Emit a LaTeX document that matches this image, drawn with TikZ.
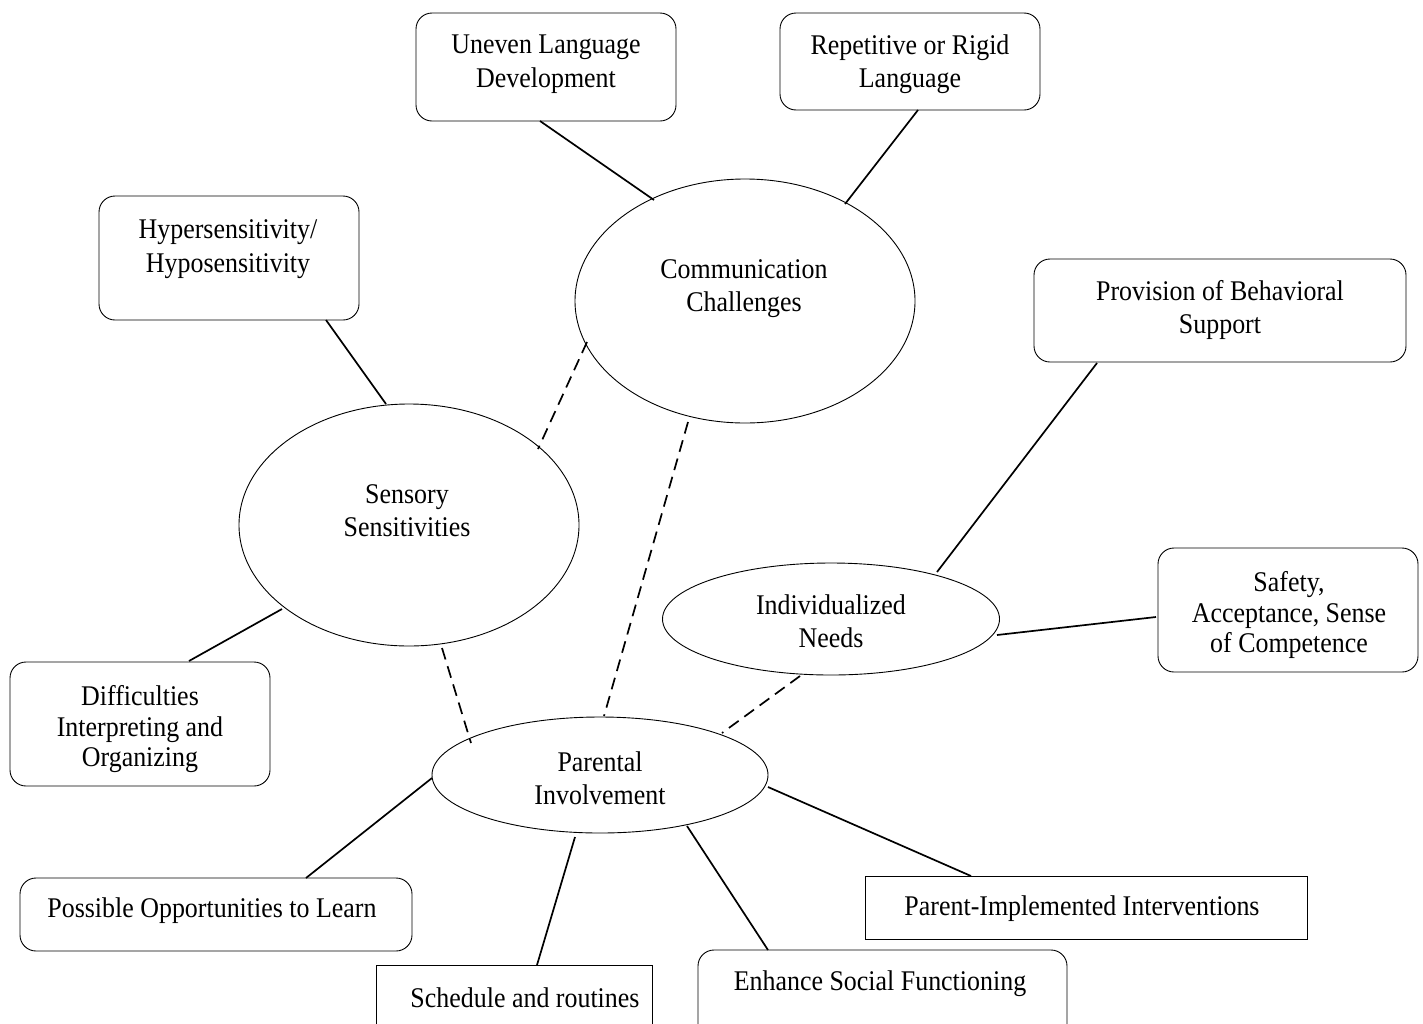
\documentclass[tikz,border=0pt]{standalone}
\usepackage{fontspec}
\setmainfont{Liberation Serif}[FakeStretch=0.91]
\usetikzlibrary{shapes.geometric,calc}
\begin{document}
\begin{tikzpicture}[x=1pt,y=-1pt,
  rbox/.style={draw, rounded corners=16pt, line width=0.9pt, inner sep=0pt},
  sbox/.style={draw, line width=0.9pt, inner sep=0pt},
  ell/.style={draw, ellipse, line width=0.9pt, inner sep=0pt},
  txt/.style={align=center, inner sep=0pt, font=\fontsize{28.5}{33.5}\selectfont},
  txtt/.style={align=center, inner sep=0pt, font=\fontsize{28.5}{30.5}\selectfont},
  conn/.style={line width=1.7pt},
  dconn/.style={line width=1.7pt, dash pattern=on 12pt off 7pt}]
\clip (0,0) rectangle (1423,1023);
\fill[white] (0,0) rectangle (1423,1023);

% boxes
\node[rbox, minimum width=260pt, minimum height=108pt] (ul) at (546,67) {};
\node[txt] (ult) at (546,64) {Uneven Language\\Development};
\node[rbox, minimum width=260pt, minimum height=97pt] (rr) at (910,61.5) {};
\node[txt] (rrt) at (910,64) {Repetitive or Rigid\\Language};
\node[rbox, minimum width=260pt, minimum height=124pt] (hh) at (229,258) {};
\node[txt] (hht) at (228,249) {Hypersensitivity/\\Hyposensitivity};
\node[rbox, minimum width=372pt, minimum height=103pt] (pb) at (1220,310.5) {};
\node[txt] (pbt) at (1220,310) {Provision of Behavioral\\Support};
\node[rbox, minimum width=260pt, minimum height=124pt] (sa) at (1288,610) {};
\node[txtt] (sat) at (1289,615) {Safety,\\Acceptance, Sense\\of Competence};
\node[rbox, minimum width=260pt, minimum height=124pt] (di) at (140,724) {};
\node[txtt] (dit) at (140,729.5) {Difficulties\\Interpreting and\\Organizing};
\node[rbox, minimum width=392pt, minimum height=73pt] (po) at (216,914.5) {};
\node[txt] (pot) at (212,911) {Possible Opportunities to Learn};
\node[sbox, minimum width=276pt, minimum height=80pt] (sr) at (514,1005) {};
\node[txt] (srt) at (525,998) {Schedule and routines};
\node[rbox, minimum width=369pt, minimum height=90pt] (es) at (882.5,995) {};
\node[txt] (est) at (880,984) {Enhance Social Functioning};
\node[sbox, minimum width=442pt, minimum height=63pt] (pii) at (1086,907.5) {};
\node[txt] (piit) at (1082,909) {Parent-Implemented Interventions};

% ellipses
\node[ell, minimum width=340pt, minimum height=244pt] (cc) at (745,301) {};
\node[txt] (cct) at (744,288.5) {Communication\\Challenges};
\node[ell, minimum width=340pt, minimum height=242pt] (ss) at (409,525) {};
\node[txt] (sst) at (407,510.5) {Sensory\\Sensitivities};
\node[ell, minimum width=337pt, minimum height=112pt] (in) at (831,619) {};
\node[txt] (int) at (831,621) {Individualized\\Needs};
\node[ell, minimum width=336pt, minimum height=116pt] (pi) at (600,775) {};
\node[txt] (pit) at (600,778) {Parental\\Involvement};

% solid connectors
\draw[conn] ($(ul.center)+(-6,54)$) -- ($(cc.center)+(-91,-101)$);
\draw[conn] ($(rr.center)+(8,48.5)$) -- ($(cc.center)+(100,-97)$);
\draw[conn] ($(hh.center)+(97,62)$) -- ($(ss.center)+(-23,-121)$);
\draw[conn] ($(ss.center)+(-127,84)$) -- ($(di.center)+(49,-63)$);
\draw[conn] ($(pb.center)+(-123,52.5)$) -- ($(in.center)+(106,-47)$);
\draw[conn] ($(in.center)+(166,16)$) -- ($(sa.center)+(-132,7)$);
\draw[conn] ($(pi.center)+(-168,3)$) -- ($(po.center)+(90,-36.5)$);
\draw[conn] ($(pi.center)+(-25,62)$) -- ($(sr.center)+(23,-40)$);
\draw[conn] ($(pi.center)+(87,51)$) -- ($(es.center)+(-114.5,-45)$);
\draw[conn] ($(pi.center)+(168,12)$) -- ($(pii.center)+(-115,-31.5)$);

% dashed connectors
\draw[dconn] ($(cc.center)+(-158,41)$) -- ($(ss.center)+(129,-76)$);
\draw[dconn] ($(cc.center)+(-57,121)$) -- ($(pi.center)+(4,-59)$);
\draw[dconn] ($(ss.center)+(33,123)$) -- ($(pi.center)+(-129,-32)$);
\draw[dconn] ($(in.center)+(-31,57)$) -- ($(pi.center)+(122,-42)$);
\end{tikzpicture}
\end{document}
